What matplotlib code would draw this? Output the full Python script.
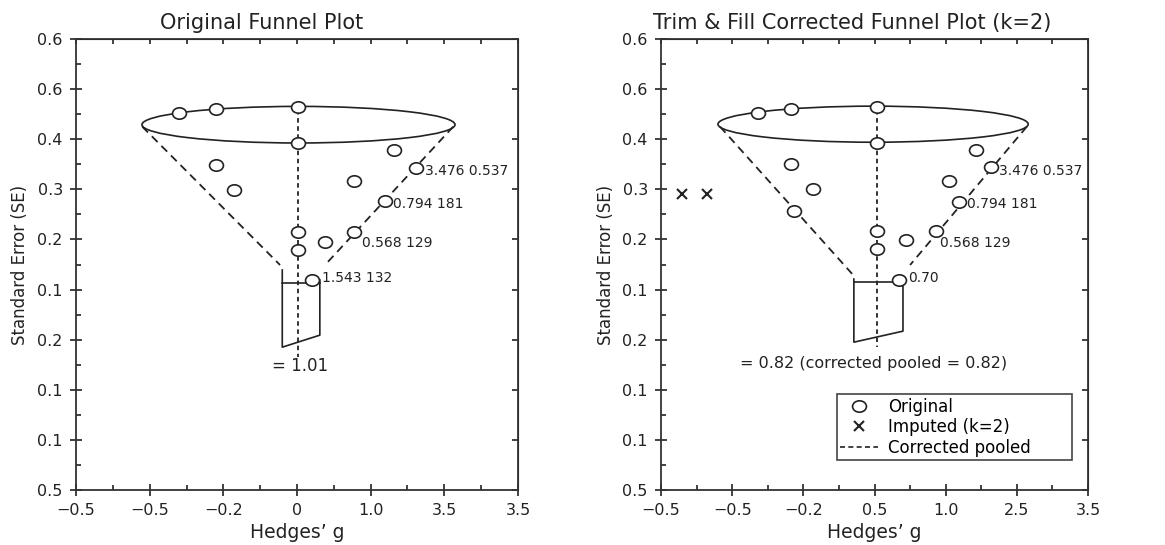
import numpy as np
import matplotlib
matplotlib.use("Agg")
from matplotlib import pyplot as plt
from matplotlib.patches import Ellipse
from matplotlib.lines import Line2D
from matplotlib.path import Path
from matplotlib.transforms import Affine2D

plt.rcParams['font.family'] = ['DejaVu Sans']

# tick labels as printed (positions are 0..n-1 on the plot scale)
y_labels = ['0.5', '0.1', '0.1', '0.2', '0.1', '0.2', '0.3', '0.4', '0.6', '0.6']
x_labels_left = ['\u22120.5', '\u22120.5', '\u22120.2', '0', '1.0', '3.5', '3.5']
x_labels_right = ['\u22120.5', '\u22120.5', '\u22120.2', '0.5', '1.0', '2.5', '3.5']

# studies in plot-scale units
orig_x_left = [1.40, 1.90, 3.01, 3.01, 1.90, 2.15, 4.32, 4.62, 3.77, 4.19, 3.01, 3.38, 3.78, 3.01, 3.21]
orig_y_left = [7.52, 7.60, 7.65, 6.92, 6.49, 5.99, 6.78, 6.42, 6.17, 5.76, 5.15, 4.95, 5.15, 4.79, 4.19]
orig_x_right = [1.36, 1.83, 3.03, 3.03, 1.82, 2.13, 1.87, 4.42, 4.63, 4.05, 4.19, 3.03, 3.44, 3.86, 3.03, 3.35]
orig_y_right = [7.53, 7.60, 7.65, 6.93, 6.50, 6.00, 5.57, 6.79, 6.45, 6.17, 5.75, 5.17, 4.98, 5.16, 4.80, 4.19]
imp_x = [0.30, 0.65]
imp_y = [5.90, 5.90]

# funnel outline: (ellipse center x, center y, width, height)
rim_left = (3.02, 7.29, 4.25, 0.73)
rim_right = (2.98, 7.30, 4.36, 0.72)
side_l_left = ([0.90, 2.77], [7.25, 4.49])
side_r_left = ([5.12, 3.38], [7.25, 4.49])
side_l_right = ([0.83, 2.70], [7.25, 4.29])
side_r_right = ([5.14, 3.50], [7.25, 4.49])
pooled_left = (3.01, 7.58, 2.65)
pooled_right = (3.03, 7.58, 2.85)
# spout: left x, right x, left top, left bottom, right bottom, right top, bar y
spout_left = (2.80, 3.31, 4.39, 2.85, 3.09, 4.19, 4.13)
spout_right = (2.71, 3.40, 4.21, 2.95, 3.17, 4.15, 4.16)

notes_left = [('3.476 0.537', 4.74, 6.37), ('0.794 181', 4.30, 5.71),
              ('0.568 129', 3.88, 4.93), ('1.543 132', 3.34, 4.23)]
notes_right = [('3.476 0.537', 4.75, 6.37), ('0.794 181', 4.30, 5.71),
               ('0.568 129', 3.92, 4.93), ('0.70', 3.47, 4.23)]
pool_text_left = ('= 1.01', 3.04, 2.48, 12)
pool_text_right = ('= 0.82 (corrected pooled = 0.82)', 2.98, 2.53, 11.5)

ink = '#222222'
oval = Path.unit_circle().transformed(Affine2D().scale(1.0, 0.82))


def draw_panel(ax, xlabels, ox, oy, rim, side_l, side_r, pooled, spout, notes, pool_text):
    ax.set_xlim(0, 6)
    ax.set_ylim(0, 9)
    ax.add_patch(Ellipse(rim[:2], rim[2], rim[3], fill=False, ec=ink, lw=1.2, zorder=2))
    ax.plot(*side_l, color=ink, lw=1.3, ls=(0, (4.5, 3)))
    ax.plot(*side_r, color=ink, lw=1.3, ls=(0, (4.5, 3)))
    ax.plot([pooled[0], pooled[0]], [pooled[1], pooled[2]], color=ink, lw=1.3, ls=(0, (2.5, 2)))
    xl, xr, lt, lb, rb, rt, bar = spout
    ax.plot([xl, xl, xr, xr], [lt, lb, rb, rt], color=ink, lw=1.2)
    ax.plot([xl, xr], [bar, bar], color=ink, lw=1.2)
    ax.plot(ox, oy, ls='none', marker=oval, ms=10, mfc='white', mec=ink, mew=1.2, zorder=4)
    for txt, x, y in notes:
        ax.text(x, y, txt, fontsize=10, ha='left', va='center', color=ink)
    ax.text(pool_text[1], pool_text[2], pool_text[0], fontsize=pool_text[3],
            ha='center', va='center', color=ink)

    ax.set_xticks(range(7))
    ax.set_xticks(np.arange(0.5, 6, 1), minor=True)
    ax.set_xticklabels(xlabels)
    ax.set_yticks(range(10))
    ax.set_yticks(np.arange(0.5, 9, 1), minor=True)
    ax.set_yticklabels(y_labels)
    ax.tick_params(which='major', direction='inout', length=9, width=1.2, labelsize=11.5, colors=ink, pad=5)
    ax.tick_params(which='minor', direction='in', length=3.5, width=1.2, colors=ink)
    for s in ax.spines.values():
        s.set_color('#333333')
        s.set_linewidth(1.3)

    top = ax.secondary_xaxis('top')
    top.set_xticks(range(7))
    top.set_xticks(np.arange(0.5, 6, 1), minor=True)
    top.tick_params(which='both', direction='in', length=3.5, width=1.2, labeltop=False, colors=ink)
    right = ax.secondary_yaxis('right')
    right.set_yticks(range(10))
    right.set_yticks(np.arange(0.5, 9, 1), minor=True)
    right.tick_params(which='major', direction='in', length=4, width=1.2, labelright=False, colors=ink)
    right.tick_params(which='minor', direction='in', length=0)

    ax.set_xlabel('Hedges\u2019 g', fontsize=13.5, color=ink)
    ax.set_ylabel('Standard Error (SE)', fontsize=12, color=ink)
    ax.xaxis.set_label_coords(0.5, -0.073)
    ax.yaxis.set_label_coords(-0.107, 0.5)


fig = plt.figure(figsize=(11.65, 5.45), dpi=100)
ax1 = fig.add_axes([76 / 1165, 55 / 545, 442 / 1165, 451 / 545])
ax2 = fig.add_axes([661 / 1165, 55 / 545, 427 / 1165, 451 / 545])

draw_panel(ax1, x_labels_left, orig_x_left, orig_y_left, rim_left, side_l_left, side_r_left,
           pooled_left, spout_left, notes_left, pool_text_left)
draw_panel(ax2, x_labels_right, orig_x_right, orig_y_right, rim_right, side_l_right, side_r_right,
           pooled_right, spout_right, notes_right, pool_text_right)
ax2.plot(imp_x, imp_y, ls='none', marker='x', ms=6.5, mew=1.5, color=ink, zorder=4)

handles = [Line2D([], [], ls='none', marker=oval, ms=10, mfc='white', mec=ink, mew=1.2),
           Line2D([], [], ls='none', marker='x', ms=6.5, mew=1.5, color=ink),
           Line2D([], [], color=ink, lw=1.2, ls=(0, (3, 2)))]
leg = ax2.legend(handles, ['Original', 'Imputed (k=2)', 'Corrected pooled'],
                 loc='upper left', bbox_to_anchor=(0.4115, 0.066, 0.552, 0.146), mode='expand',
                 fontsize=12, fancybox=False, framealpha=1, edgecolor='#444444',
                 handlelength=2.3, handletextpad=0.6, labelspacing=0.15, borderpad=0.2,
                 borderaxespad=0)
leg.get_frame().set_linewidth(1.2)

fig.text(262 / 1165, 1 - 23 / 545, 'Original Funnel Plot', fontsize=15, ha='center', va='center', color=ink)
fig.text(852 / 1165, 1 - 23 / 545, 'Trim & Fill Corrected Funnel Plot (k=2)', fontsize=15,
         ha='center', va='center', color=ink)

fig.savefig('out.png', dpi=100, facecolor='white')
